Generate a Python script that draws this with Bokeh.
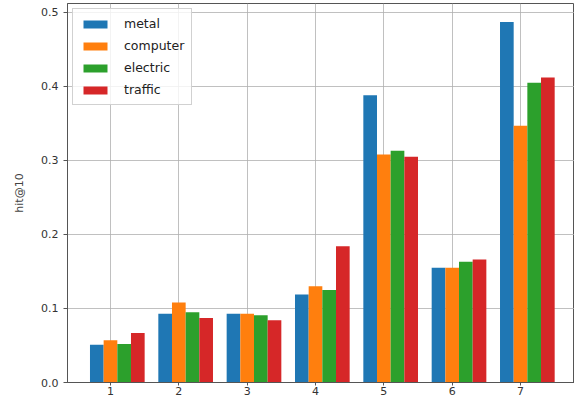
from bokeh.plotting import figure
from bokeh.models import ColumnDataSource, FixedTicker, Legend, LegendItem, Range1d, CustomJSTickFormatter
from bokeh.transform import dodge
from bokeh.embed import file_html
from bokeh.resources import INLINE

groups = [1, 2, 3, 4, 5, 6, 7]
metal = [0.051, 0.093, 0.093, 0.119, 0.388, 0.155, 0.487]
computer = [0.057, 0.108, 0.093, 0.130, 0.308, 0.155, 0.347]
electric = [0.052, 0.095, 0.091, 0.125, 0.313, 0.163, 0.405]
traffic = [0.067, 0.087, 0.084, 0.184, 0.305, 0.166, 0.412]
series_names = ["metal", "computer", "electric", "traffic"]
colors = ["#1f77b4", "#ff7f0e", "#2ca02c", "#d62728"]
y_ticks = [0.0, 0.1, 0.2, 0.3, 0.4, 0.5]

src = ColumnDataSource(dict(g=groups, metal=metal, computer=computer,
                            electric=electric, traffic=traffic))

p = figure(width=574, height=397, output_backend="svg", toolbar_location=None,
           x_range=Range1d(0.371, 7.79), y_range=Range1d(0, 0.512),
           min_border_left=67, min_border_right=0, min_border_top=3, min_border_bottom=0)

offsets = [-0.2, 0.0, 0.2, 0.4]
items = []
for name, col, off in zip(series_names, colors, offsets):
    r = p.vbar(x=dodge("g", off, range=p.x_range), top=name, width=0.2, source=src,
               fill_color=col, line_color=None)
    items.append(LegendItem(label=name, renderers=[r]))

legend = Legend(items=items, location="top_left")
legend.label_text_font = "DejaVu Sans"
legend.label_text_font_size = "12.5px"
legend.label_text_color = "#222222"
legend.glyph_width = 30
legend.glyph_height = 10
legend.spacing = 7
legend.padding = 7
legend.margin = 5
legend.label_standoff = 14
legend.border_line_color = "#cccccc"
legend.border_line_alpha = 0.9
legend.background_fill_alpha = 0.8
p.add_layout(legend)

p.xaxis.ticker = FixedTicker(ticks=groups)
p.yaxis.ticker = FixedTicker(ticks=y_ticks)
p.yaxis.formatter = CustomJSTickFormatter(code="return tick.toFixed(1);")
p.yaxis.axis_label = "hit@10"
p.yaxis.axis_label_text_font = "DejaVu Sans"
p.yaxis.axis_label_text_font_style = "normal"
p.yaxis.axis_label_text_font_size = "11px"
p.yaxis.axis_label_standoff = 12

for ax in (p.xaxis, p.yaxis):
    ax.major_label_text_font = "DejaVu Sans"
    ax.major_label_text_font_size = "11px"
    ax.major_label_text_color = "#333333"
    ax.minor_tick_line_color = None
    ax.major_tick_in = 0
    ax.major_tick_out = 4
    ax.axis_line_color = "#555555"
    ax.major_tick_line_color = "#555555"
p.xaxis.major_label_standoff = 1
p.xaxis.major_tick_out = 3

p.xgrid.grid_line_color = "#b0b0b0"
p.ygrid.grid_line_color = "#b0b0b0"
p.xgrid.grid_line_width = 0.8
p.ygrid.grid_line_width = 0.8
p.outline_line_color = "#555555"
p.outline_line_alpha = 1

open("out.html", "w").write(file_html(p, INLINE))
